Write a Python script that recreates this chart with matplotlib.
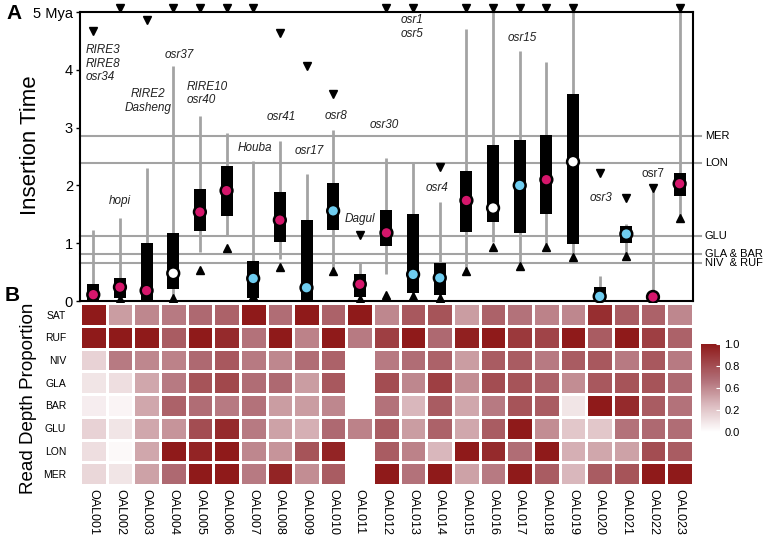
import numpy as np
import matplotlib
matplotlib.use("Agg")
import matplotlib.pyplot as plt
from matplotlib.colors import LinearSegmentedColormap

plt.rcParams["font.family"] = ["Liberation Sans", "DejaVu Sans"]

# Nomes das amostras
oal = ["OAL001", "OAL002", "OAL003", "OAL004", "OAL005", "OAL006", "OAL007",
       "OAL008", "OAL009", "OAL010", "OAL011", "OAL012", "OAL013", "OAL014",
       "OAL015", "OAL016", "OAL017", "OAL018", "OAL019", "OAL020", "OAL021",
       "OAL022", "OAL023"]

# Painel A: tempo de insercao (Mya)
q1 = [0.0, 0.05, 0.0, 0.21, 1.22, 1.47, 0.06, 1.02, 0.0, 1.23, 0.07, 0.96,
      0.13, 0.11, 1.20, 1.36, 1.18, 1.51, 0.99, 0.0, 1.0, 0.0, 1.81]
q3 = [0.29, 0.39, 1.0, 1.18, 1.94, 2.33, 0.69, 1.88, 1.40, 2.05, 0.46, 1.57,
      1.51, 0.65, 2.25, 2.70, 2.79, 2.87, 3.59, 0.25, 1.29, 0.05, 2.21]
med = [0.11, 0.24, 0.18, 0.48, 1.54, 1.91, 0.39, 1.40, 0.23, 1.56, 0.29, 1.18,
       0.46, 0.40, 1.74, 1.61, 2.00, 2.10, 2.41, 0.08, 1.16, 0.07, 2.03]
wlo = [0.0, 0.0, 0.0, 0.08, 0.84, 1.12, 0.0, 0.72, 0.0, 0.56, 0.0, 0.47,
       0.10, 0.07, 0.56, 1.02, 0.64, 0.98, 0.80, 0.0, 0.82, 0.0, 1.48]
whi = [1.23, 1.44, 2.31, 4.06, 3.21, 2.90, 2.42, 2.77, 2.20, 2.96, 0.67, 2.48,
       2.40, 1.71, 4.71, 5.0, 4.33, 4.13, 5.0, 0.43, 1.34, 1.96, 5.0]
# cor da mediana: m = magenta, b = azul, w = branco
med_tipo = ["m", "m", "m", "w", "m", "m", "b", "m", "b", "b", "m", "m",
            "b", "b", "m", "w", "b", "m", "w", "b", "b", "m", "m"]
# outliers acima (5 = fora do grafico) e abaixo
out_cima = [4.68, 5, 4.87, 5, 5, 5, 5, 4.64, 4.06, 3.59, 1.14, 5,
            5, 2.32, 5, 5, 5, 5, 5, 2.21, 1.79, 1.96, 5]
out_baixo = [np.nan, 0.03, np.nan, 0.06, 0.53, 0.91, 0.08, 0.58, np.nan, 0.52,
             0.03, 0.11, 0.08, 0.05, 0.52, 0.94, 0.60, 0.94, 0.76, np.nan,
             0.78, np.nan, 1.44]

# linhas de referencia
ref_nomes = ["MER", "LON", "GLU", "GLA & BAR", "NIV  & RUF"]
ref_valores = [2.85, 2.38, 1.13, 0.82, 0.66]

# nomes das familias
familias = ["RIRE3\nRIRE8\nosr34", "hopi", "RIRE2\nDasheng", "osr37",
            "RIRE10\nosr40", "Houba", "osr41", "osr17", "osr8", "Dagul",
            "osr30", "osr1\nosr5", "osr4", "osr15", "osr3", "osr7"]
fam_pos = [(0.2, 4.11, "left"), (1.5, 1.73, "center"), (2.55, 3.46, "center"),
           (3.72, 4.25, "center"), (4.02, 3.59, "left"), (6.58, 2.65, "center"),
           (7.56, 3.18, "center"), (8.6, 2.59, "center"), (9.6, 3.2, "center"),
           (10.5, 1.42, "center"), (11.4, 3.04, "center"), (12.03, 4.74, "left"),
           (13.4, 1.96, "center"), (16.6, 4.56, "center"), (19.55, 1.79, "center"),
           (21.5, 2.2, "center")]

# Painel B: proporcao de profundidade de leitura
linhas = ["SAT", "RUF", "NIV", "GLA", "BAR", "GLU", "LON", "MER"]
nan = np.nan
sat = [1.0, 0.42, 0.5, 0.55, 0.62, 0.65, 1.0, 0.6, 1.0, 0.65, 1.0, 0.5,
       0.7, 0.72, 0.42, 0.65, 0.58, 0.52, 0.5, 0.9, 0.68, 0.65, 0.5]
ruf = [1.0, 1.0, 1.0, 0.68, 1.0, 0.92, 0.58, 1.0, 0.52, 1.0, 0.55, 0.82,
       1.0, 0.62, 0.97, 1.0, 0.85, 0.8, 1.0, 0.68, 1.0, 0.82, 0.65]
niv = [0.2, 0.55, 0.5, 0.52, 0.62, 0.7, 0.55, 0.5, 0.6, 0.65, nan, 0.55,
       0.6, 0.65, 0.42, 0.68, 0.68, 0.55, 0.68, 0.7, 0.55, 0.7, 0.55]
gla = [0.12, 0.15, 0.38, 0.55, 0.72, 0.78, 0.6, 0.62, 0.42, 0.7, nan, 0.75,
       0.5, 0.82, 0.48, 0.75, 0.72, 0.65, 0.48, 0.7, 0.72, 0.72, 0.62]
bar = [0.08, 0.05, 0.38, 0.65, 0.6, 0.55, 0.58, 0.42, 0.42, 0.5, nan, 0.58,
       0.32, 0.68, 0.38, 0.55, 0.72, 0.68, 0.12, 1.0, 0.92, 0.68, 0.58]
glu = [0.2, 0.12, 0.38, 0.45, 0.75, 0.92, 0.55, 0.4, 0.35, 0.62, 0.52, 0.68,
       0.42, 0.65, 0.38, 0.68, 1.0, 0.48, 0.25, 0.25, 0.58, 0.62, 0.6]
lon = [0.15, 0.03, 0.38, 1.0, 0.95, 1.0, 0.5, 0.45, 0.72, 0.95, nan, 0.68,
       0.52, 0.32, 1.0, 0.92, 0.6, 1.0, 0.35, 0.38, 0.4, 0.75, 0.68]
mer = [0.18, 0.12, 0.4, 0.62, 1.0, 1.0, 0.55, 0.95, 0.48, 0.68, nan, 1.0,
       0.58, 1.0, 0.4, 0.55, 1.0, 0.68, 0.32, 0.68, 0.72, 1.0, 1.0]

cores_med = {"m": "#d5166b", "b": "#6fcdf0", "w": "white"}
cinza = "#a3a3a3"

fig = plt.figure(figsize=(7.63, 5.38), dpi=100)
ax = fig.add_axes([0.1048, 0.4405, 0.8034, 0.537])
axh = fig.add_axes([0.1048, 0.0985, 0.8034, 0.338])
cax = fig.add_axes([0.9187, 0.197, 0.025, 0.1636])

x = np.arange(len(oal)) + 0.5

# linhas de referencia
for nome, v in zip(ref_nomes, ref_valores):
    ax.plot([0, 23.3], [v, v], color=cinza, lw=1.5, zorder=1, clip_on=False)
    ax.text(23.45, v, nome, fontsize=8, va="center", ha="left")

# bigodes, caixas e medianas
ax.vlines(x, wlo, whi, color=cinza, lw=2, zorder=2)
ax.bar(x, np.array(q3) - np.array(q1), bottom=q1, width=0.45,
       color="black", zorder=3)
ax.scatter(x, med, s=72, c=[cores_med[t] for t in med_tipo],
           edgecolors="black", linewidths=1.8, zorder=5, clip_on=False)

# outliers
cima = np.array(out_cima, dtype=float)
ax.plot(x[cima < 5], cima[cima < 5], "kv", ms=6, zorder=4)
ax.plot(x[cima >= 5], cima[cima >= 5] + 0.07, "kv", ms=6, zorder=6, clip_on=False)
ax.plot(x, out_baixo, "k^", ms=6, zorder=4, clip_on=False)

# nomes das familias
for nome, (px, py, ha) in zip(familias, fam_pos):
    estilo = "normal" if nome == "osr7" else "italic"
    ax.text(px, py, nome, fontsize=8.5, style=estilo, ha=ha, va="center",
            color="#222222", linespacing=1.15)

ax.set_xlim(0, 23)
ax.set_ylim(0, 5)
ax.set_xticks([])
ax.set_yticks([0, 1, 2, 3, 4, 5])
ax.set_yticklabels(["0", "1", "2", "3", "4", "5 Mya"], fontsize=10.5)
ax.tick_params(axis="y", length=3, width=1, pad=2)
for s in ax.spines.values():
    s.set_linewidth(1.5)

# heatmap
dados = np.array([sat, ruf, niv, gla, bar, glu, lon, mer])
cmap = LinearSegmentedColormap.from_list(
    "vermelho", [(0, "#ffffff"), (0.3, "#dcbcc0"), (0.6, "#b06d75"), (1, "#8f1a1a")])
malha = axh.pcolormesh(np.ma.masked_invalid(dados), cmap=cmap, vmin=0, vmax=1,
                       edgecolors="white", linewidth=1)
axh.set_xlim(0, 23)
axh.set_ylim(8, 0)
axh.set_xticks(x)
axh.set_xticklabels(oal, rotation=270, fontsize=9)
axh.set_yticks(np.arange(8) + 0.5)
axh.set_yticklabels(linhas, fontsize=7.5)
axh.tick_params(length=0, pad=3)
axh.tick_params(axis="y", pad=10)
for s in axh.spines.values():
    s.set_visible(False)

cb = fig.colorbar(malha, cax=cax)
cb.outline.set_visible(False)
cb.set_ticks([1.0, 0.75, 0.5, 0.25, 0.0])
cb.set_ticklabels(["1.0", "0.8", "0.6", "0.2", "0.0"])
cb.ax.tick_params(labelsize=8, color="white", length=3, direction="in", pad=3)

# titulos dos eixos e letras dos paineis
fig.text(0.04, 0.73, "Insertion Time", rotation=90, fontsize=16,
         ha="center", va="center")
fig.text(0.038, 0.26, "Read Depth Proportion", rotation=90, fontsize=13.5,
         ha="center", va="center")
fig.text(0.008, 0.992, "A", fontsize=15, fontweight="bold", va="top")
fig.text(0.006, 0.468, "B", fontsize=15, fontweight="bold", va="top")

fig.savefig("out.png", dpi=100)
